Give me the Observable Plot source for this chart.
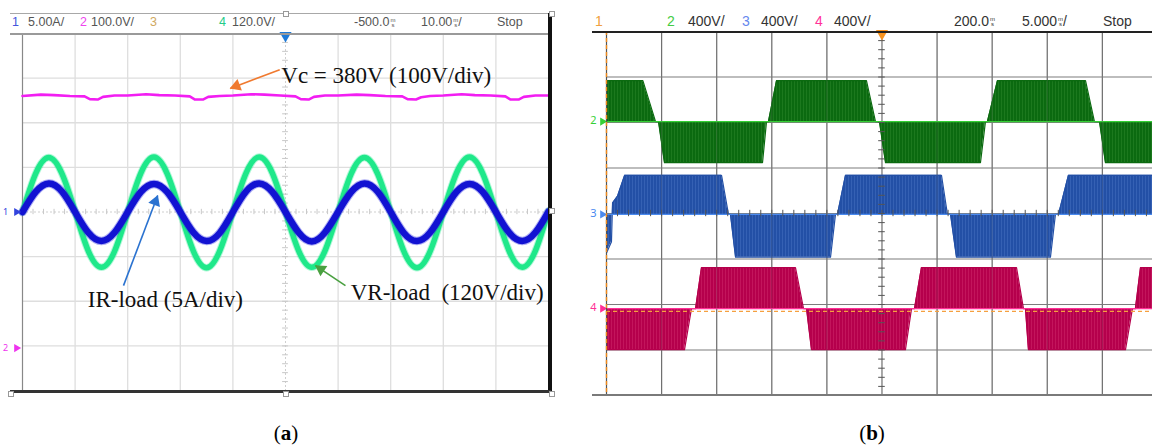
<!DOCTYPE html>
<html><head><meta charset="utf-8">
<script src="https://cdn.jsdelivr.net/npm/d3@7"></script>
<script src="https://cdn.jsdelivr.net/npm/@observablehq/plot@0.6"></script>
<style>
body{margin:0;background:#fff;}
#fig{position:relative;width:1152px;height:448px;overflow:hidden;background:#fff;}
.ln{position:absolute;}
.hd{position:absolute;white-space:nowrap;font-family:"Liberation Sans Narrow","Liberation Sans",sans-serif;color:#555;line-height:14px;}
.ha{font-size:12.5px;top:15px;}
.hb{font-size:14px;top:14px;color:#333;}
.u{display:inline-block;font-size:6px;line-height:5px;vertical-align:middle;text-align:center;margin-left:1px;}
.cap{position:absolute;font-family:"Liberation Serif","Times New Roman",serif;font-size:21px;color:#000;top:421px;transform:translateX(-50%);}
.sq{position:absolute;width:4px;height:4px;background:#fff;border:1px solid #999;}
</style></head>
<body><div id="fig"></div>
<script>
// ================= DATA =================
// Panel (a): 10 ms/div, 8 vertical divisions. Times in ms, values in divisions.
const tA = [0,2.5,5,7.5,10,12.5,15,17.5,20,22.5,25,27.5,30,32.5,35,37.5,40,42.5,45,47.5,50,52.5,55,57.5,60,62.5,65,67.5,70,72.5,75,77.5,80,82.5,85,87.5,90,92.5,95,97.5,100];
const vrLoad = [0,0.86,1.22,0.86,0.01,-0.87,-1.24,-0.88,
                0,0.87,1.23,0.86,0,-0.88,-1.25,-0.87,
                0.01,0.87,1.23,0.87,0,-0.87,-1.24,-0.87,
                0,0.86,1.22,0.86,0,-0.88,-1.25,-0.88,
                0,0.87,1.23,0.86,0,-0.87,-1.24,-0.87,0.02];
const irLoad = [0,0.45,0.64,0.46,0,-0.46,-0.65,-0.46,
                0,0.45,0.63,0.45,0,-0.46,-0.65,-0.47,
                0,0.46,0.64,0.45,0,-0.46,-0.66,-0.46,
                0,0.45,0.64,0.46,0,-0.47,-0.65,-0.46,
                0,0.45,0.63,0.45,0,-0.46,-0.65,-0.46,0.01];
const vcT = [0,3.5,6,9,11.8,12.8,14.3,15.3,17.5,
             20,23.5,26,29,31.8,32.8,34.3,35.3,37.5,
             40,43.5,46,49,51.9,52.9,54.4,55.4,57.5,
             60,63.5,66,69,72.2,73.2,74.8,75.8,77.5,
             80,83.5,86,89,91.8,92.8,94.3,95.3,97.5,100];
const vcV = [2.60,2.63,2.62,2.60,2.59,2.53,2.52,2.58,2.61,
             2.61,2.64,2.62,2.61,2.59,2.52,2.52,2.58,2.60,
             2.61,2.64,2.63,2.61,2.59,2.53,2.52,2.58,2.61,
             2.61,2.63,2.62,2.60,2.59,2.53,2.52,2.57,2.60,
             2.61,2.64,2.62,2.61,2.59,2.52,2.52,2.58,2.61,2.61];
const gridTimeA = [10,20,30,40,60,70,80,90];
const gridDivA = [-3,-2,-1,1,2,3];
const headerA = ["1","5.00A/","2","100.0V/","3","4","120.0V/","-500.0","10.00","Stop"];

// Panel (b): 5 ms/div. Levels relative to each channel's ground, in divisions.
const ch2T = [0,3.3,4.45,4.72,5.26,14.16,14.52,14.70,15.43,23.59,24.41,24.77,25.32,33.94,34.39,34.57,35.48,43.47,44.28,44.74,45.28,49.55];
const ch2V = [0.9,0.9,0,0,-0.9,-0.9,0,0,0.9,0.9,0,0,-0.9,-0.9,0,0,0.9,0.9,0,0,-0.9,-0.9];
const ch3T = [0,0.45,0.55,1.0,1.65,10.44,11.07,11.25,11.71,20.33,20.78,20.96,21.69,30.40,30.94,31.22,31.76,40.29,40.74,41.02,41.92,49.55];
const ch3V = [-0.85,-0.6,0.25,0.4,0.86,0.86,0,0,-0.94,-0.94,0,0,0.86,0.86,0,0,-0.94,-0.94,0,0,0.86,0.86];
const ch4T = [0,7.08,7.71,8.08,8.62,17.15,17.88,18.15,18.60,27.13,27.68,27.95,28.58,37.21,37.84,38.02,38.29,47.10,47.73,48.00,48.46,49.55];
const ch4V = [-0.9,-0.9,0,0,0.9,0.9,0,0,-0.9,-0.9,0,0,0.9,0.9,0,0,-0.9,-0.9,0,0,0.9,0.9];
const channelNames = ["2","3","4"];
const channelGround = [2.02,-0.02,-2.09];
const triggerLevel = -2.15;
const gridTimeB = [5,10,15,20,30,35,40,45];
const gridDivB = [-3,-2,-1,1,2,3];
const headerB = ["1","2","400V/","3","400V/","4","400V/","200.0","5.000","Stop"];

// ================= BUILD =================
const fig = document.getElementById("fig");
const serif = "Liberation Serif, Times New Roman, serif";

const seriesA = tA.map((t,i)=>({t, vr: vrLoad[i], ir: irLoad[i]}));
const vcData = vcT.map((t,i)=>({t, v: vcV[i]}));

const A = {w:560,h:400,ml:22,mr:12,mt:33,mb:10};
const kxA = (A.w-A.ml-A.mr)/100, kyA = (A.h-A.mt-A.mb)/8;
function arrow(a, color){
  const dx=(a.x2-a.x1)*kxA, dy=-(a.y2-a.y1)*kyA, L=Math.hypot(dx,dy);
  const ux=dx/L, uy=dy/L, rot=Math.atan2(dx,-dy)*180/Math.PI;
  return [
    Plot.link([a],{x1:"x1",y1:"y1",x2:"x2",y2:"y2",stroke:color,strokeWidth:1.6}),
    Plot.dot([a],{x:"x2",y:"y2",symbol:"triangle",r:4.6,rotate:rot,fill:color,stroke:"none",dx:-ux*6.5,dy:-uy*6.5})
  ];
}
const minorA = d3.range(0,100.01,2), minorDA = d3.range(-4,4.01,0.2);

const plotA = Plot.plot({
  width:A.w,height:A.h,marginLeft:A.ml,marginRight:A.mr,marginTop:A.mt,marginBottom:A.mb,
  x:{domain:[0,100],axis:null}, y:{domain:[-4,4],axis:null},
  marks:[
    Plot.ruleX(gridTimeA,{stroke:"#dedede",strokeWidth:1.3}),
    Plot.ruleY(gridDivA,{stroke:"#dedede",strokeWidth:1.3}),
    Plot.ruleX([50],{stroke:"#cfcfcf",strokeDasharray:"2,2"}),
    Plot.ruleY([0],{stroke:"#cfcfcf",strokeDasharray:"2,2"}),
    Plot.ruleX(minorA,{y1:-0.06,y2:0.06,stroke:"#c8c8c8"}),
    Plot.ruleY(minorDA,{x1:49.45,x2:50.55,stroke:"#c8c8c8"}),
    Plot.ruleX([0],{stroke:"#888",strokeWidth:1.2}),
    Plot.line(vcData,{x:"t",y:"v",stroke:"#f21ef2",strokeWidth:2.6}),
    Plot.line(seriesA,{x:"t",y:"vr",curve:"natural",stroke:"#22ec8e",strokeWidth:7.5,strokeOpacity:0.35}),
    Plot.line(seriesA,{x:"t",y:"vr",curve:"natural",stroke:"#1fe88a",strokeWidth:5.5}),
    Plot.line(seriesA,{x:"t",y:"ir",curve:"natural",stroke:"#1a1ae0",strokeWidth:8.5,strokeOpacity:0.35}),
    Plot.line(seriesA,{x:"t",y:"ir",curve:"natural",stroke:"#1212d2",strokeWidth:6.5}),
    Plot.dot([0],{x:50,y:4,symbol:"triangle",rotate:180,r:4.5,fill:"#1e7ad8",dy:2}),
    Plot.text(["1"],{x:0,y:0,dx:-17,text:d=>d,fill:"#3344dd",fontSize:9}),
    Plot.dot([0],{x:0,y:0,dx:-6,symbol:"triangle",rotate:90,r:3,fill:"#3344dd"}),
    Plot.text(["2"],{x:0,y:-3.05,dx:-17,text:d=>d,fill:"#ee33ee",fontSize:9}),
    Plot.dot([0],{x:0,y:-3.05,dx:-6,symbol:"triangle",rotate:90,r:3,fill:"#ee33ee"}),
    Plot.text(["Vc = 380V (100V/div)"],{x:49.2,y:2.88,text:d=>d,textAnchor:"start",lineAnchor:"bottom",fontFamily:serif,fontSize:23,fill:"#111"}),
    Plot.text(["IR-load (5A/div)"],{x:12.4,y:-2.14,text:d=>d,textAnchor:"start",lineAnchor:"bottom",fontFamily:serif,fontSize:23,fill:"#111"}),
    Plot.text(["VR-load  (120V/div)"],{x:62.4,y:-1.98,text:d=>d,textAnchor:"start",lineAnchor:"bottom",fontFamily:serif,fontSize:23,fill:"#111"}),
    ...arrow({x1:48.9,y1:3.19,x2:39.5,y2:2.77},"#f07a30"),
    ...arrow({x1:19.2,y1:-1.65,x2:25.7,y2:0.37},"#2a72d0"),
    ...arrow({x1:61.4,y1:-1.65,x2:55.7,y2:-1.20},"#4aa040")
  ]
});
Object.assign(plotA.style,{position:"absolute",left:"0px",top:"0px",background:"transparent",overflow:"visible"});
fig.appendChild(plotA);

// Panel (b)
const B = {w:572,h:400,ml:26,mr:0,mt:31,mb:5};
const chanColors = [
  {base:"#0b6a10",light:"#3f9a3a",zero:"#35d035",id:"pg"},
  {base:"#2350a6",light:"#5a86d0",zero:"#4a8af0",id:"pb"},
  {base:"#b5004c",light:"#e0407e",zero:"#ff2f96",id:"pp"}
];
const chanT = [ch2T,ch3T,ch4T], chanV = [ch2V,ch3V,ch4V];
const waveMarks = [];
chanT.forEach((ts,c)=>{
  const g = channelGround[c], col = chanColors[c];
  const data = ts.map((t,i)=>({t, lo:g, hi:g+chanV[c][i]}));
  waveMarks.push(Plot.areaY(data,{x:"t",y1:"lo",y2:"hi",fill:`url(#${col.id})`}));
  waveMarks.push(Plot.line(data,{x:"t",y:"hi",stroke:col.base,strokeWidth:1.2}));
  waveMarks.push(Plot.ruleY([g],{stroke:col.zero,strokeWidth:1.3}));
  waveMarks.push(Plot.text([channelNames[c]],{x:0,y:g,dx:-13,dy:-1,text:d=>d,fill:col.zero,fontSize:11}));
  waveMarks.push(Plot.dot([g],{x:0,y:d=>d,dx:-4,symbol:"triangle",rotate:90,r:3,fill:col.zero}));
});
const minorB = d3.range(0,49.6,1), minorDB = d3.range(-4,4.01,0.2);
const plotB = Plot.plot({
  width:B.w,height:B.h,marginLeft:B.ml,marginRight:B.mr,marginTop:B.mt,marginBottom:B.mb,
  x:{domain:[0,49.55],axis:null}, y:{domain:[-4,4],axis:null},
  marks:[
    Plot.ruleX(gridTimeB,{stroke:"#6f6f6f",strokeWidth:1.2}),
    Plot.ruleY(gridDivB,{stroke:"#7c7c7c",strokeWidth:1.2}),
    Plot.ruleX([25],{stroke:"#6f6f6f",strokeWidth:1.2}),
    Plot.ruleY([0],{stroke:"#7c7c7c",strokeWidth:1.2}),
    ...waveMarks,
    Plot.ruleX(gridTimeB,{stroke:"#777",strokeOpacity:0.25}),
    Plot.ruleX(minorB,{y1:-0.07,y2:0.07,stroke:"#555"}),
    Plot.ruleY(minorDB,{x1:24.7,x2:25.3,stroke:"#555"}),
    Plot.ruleY([triggerLevel],{stroke:"#f5a040",strokeDasharray:"4,3",strokeWidth:1.2}),
    Plot.ruleX([0],{stroke:"#555",strokeWidth:1.2}),
    Plot.ruleX([0],{stroke:"#f08a1c",strokeDasharray:"4,3",strokeWidth:1.4}),
    Plot.dot([0],{x:25,y:4,symbol:"triangle",rotate:180,r:4.5,fill:"#f7921e",dy:2})
  ]
});
Object.assign(plotB.style,{position:"absolute",left:"580px",top:"0px",background:"transparent",overflow:"visible"});
const defs = d3.select(plotB).insert("defs",":first-child");
chanColors.forEach(col=>{
  const p = defs.append("pattern").attr("id",col.id).attr("patternUnits","userSpaceOnUse").attr("width",3).attr("height",4);
  p.append("rect").attr("width",3).attr("height",4).attr("fill",col.base);
  p.append("rect").attr("x",1).attr("width",0.7).attr("height",4).attr("fill",col.light).attr("opacity",0.45);
});
fig.appendChild(plotB);

// Frame lines
function ln(l,t,w,h,c){const d=document.createElement("div");d.className="ln";Object.assign(d.style,{left:l+"px",top:t+"px",width:w+"px",height:h+"px",background:c});fig.appendChild(d);}
ln(10,13,541,1,"#a8a8a8"); ln(10,33,538,1.5,"#9a9a9a");
ln(548,13,3.5,380,"#111"); ln(10,390,541,3,"#333");
ln(592,31,560,1.5,"#222"); ln(592,394,560,2,"#7a7a7a");
[[283,11],[549,11],[549,208],[549,391],[283,391],[8,391]].forEach(([l,t])=>{const s=document.createElement("div");s.className="sq";s.style.left=l+"px";s.style.top=t+"px";fig.appendChild(s);});

// Headers
const unitHTML = '<span class="u">m<br>s</span>';
const layoutA = [[12,"#4455dd"],[28,null],[80,"#ee44ee"],[91,null],[150,"#d0a860"],[219,"#22cc88"],[232,null],[354,null,"u"],[421,null,"u/"],[497,null]];
const layoutB = [[595,"#f0a040"],[667,"#44cc44"],[688,null],[742,"#6688ee"],[761,null],[815,"#ff3399"],[834,null],[954,null,"u"],[1022,null,"u/"],[1103,null]];
function header(labels, layout, cls){
  labels.forEach((txt,i)=>{
    const [x,color,unit] = layout[i];
    const s = document.createElement("span");
    s.className = "hd "+cls;
    s.style.left = x+"px";
    if(color) s.style.color = color;
    s.innerHTML = txt + (unit ? unitHTML + (unit==="u/"?"/":"") : "");
    fig.appendChild(s);
  });
}
header(headerA, layoutA, "ha");
header(headerB, layoutB, "hb");

// Captions
const caps = [["a",286],["b",872]];
caps.forEach(([c,x])=>{const s=document.createElement("div");s.className="cap";s.style.left=x+"px";s.innerHTML='(<b>'+c+'</b>)';fig.appendChild(s);});
</script>
</body></html>
